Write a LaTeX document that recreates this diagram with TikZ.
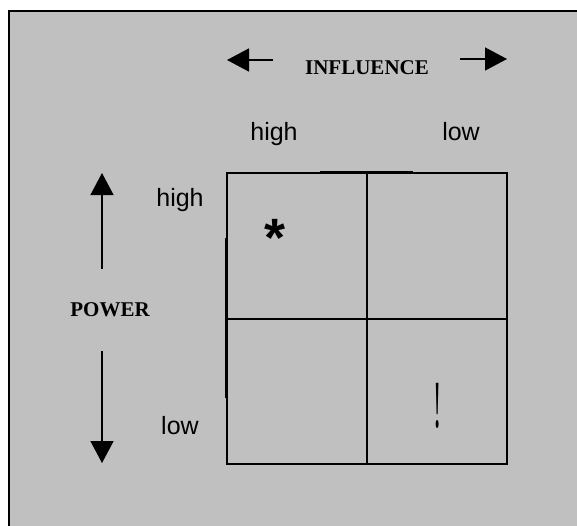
\documentclass[tikz,border=0pt]{standalone}
\usepackage{fontspec}
\setmainfont{Liberation Serif}
\newfontfamily\arialfont{Liberation Sans}
\usetikzlibrary{arrows.meta}
\definecolor{bggray}{HTML}{C0C0C0}
\tikzset{
  axislabel/.style={font=\bfseries\fontsize{21}{24}\selectfont, inner sep=0pt, anchor=base},
  levellabel/.style={font=\arialfont\fontsize{25}{30}\selectfont, inner sep=0pt, anchor=base},
  axisarrow/.style={line width=1.5pt, -{Triangle[width=23pt,length=22pt]}},
  gridline/.style={line width=1.5pt},
}
\begin{document}
\begin{tikzpicture}[x=1pt,y=-1pt]
\useasboundingbox (0,0) rectangle (577,525);
\fill[white] (0,0) rectangle (577,525);
\fill[bggray] (9,11) rectangle (590,540);
\draw[line width=2.8pt] (590,11) -- (9,11) -- (9,540);
% labels
\node[axislabel] (influence) at (367,74) {INFLUENCE};
\node[axislabel] (power) at (110,316) {POWER};
\node[levellabel] (colhigh) at (274,140) {high};
\node[levellabel] (collow) at (461,140) {low};
\node[levellabel] (rowhigh) at (180,206) {high};
\node[levellabel] (rowlow) at (180,434) {low};
% axis arrows
\coordinate (infLs) at (273,60);
\coordinate (infLe) at (227,60);
\coordinate (infRs) at (460,59);
\coordinate (infRe) at (507,59);
\coordinate (powUs) at (102,269);
\coordinate (powUe) at (102,173);
\coordinate (powDs) at (102,351);
\coordinate (powDe) at (102,463);
\draw[axisarrow] (infLs) -- (infLe);
\draw[axisarrow] (infRs) -- (infRe);
\draw[axisarrow] (powUs) -- (powUe);
\draw[axisarrow] (powDs) -- (powDe);
% grid
\draw[gridline] (227,173) rectangle (507,464);
\draw[gridline] (367,173) -- (367,464);
\draw[gridline] (227,319) -- (507,319);
\draw[gridline] (320,172) -- (413,172);
\draw[gridline] (226,238) -- (226,398);
% marks
\node[font=\arialfont\bfseries\fontsize{54}{54}\selectfont, inner sep=0pt] (star) at (275,238) {*};
\node[inner sep=0pt, anchor=base] (bang) at (438,427) {\scalebox{0.55}[1.5]{\fontsize{45}{45}\selectfont !}};
\end{tikzpicture}
\end{document}
